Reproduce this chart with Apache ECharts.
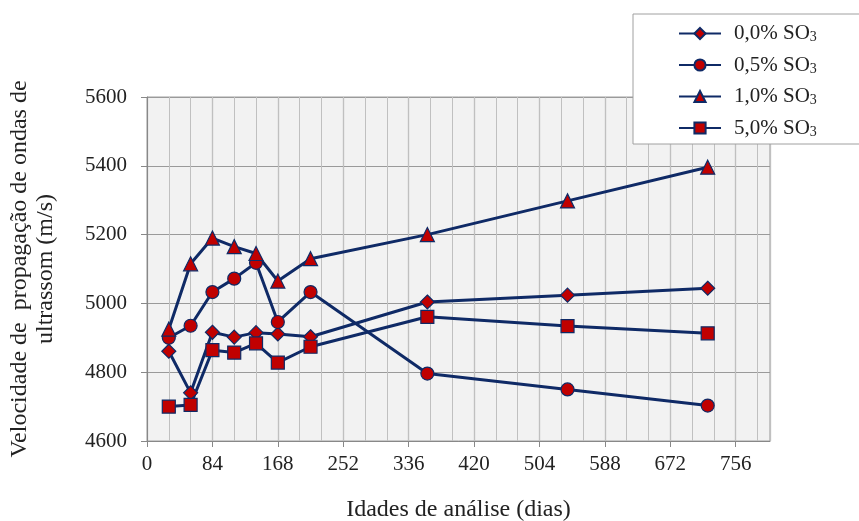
<!DOCTYPE html>
<html>
<head>
<meta charset="utf-8">
<script src="https://cdn.jsdelivr.net/npm/echarts@6/dist/echarts.min.js"></script>
<style>html,body{margin:0;padding:0;background:#fff}#c{width:859px;height:521px}</style>
</head>
<body>
<div id="c"></div>
<script>
const ages = [28, 56, 84, 112, 140, 168, 210, 360, 540, 720];
const s00 = [4861, 4740, 4916, 4902, 4915, 4911, 4903, 5004, 5024, 5044];
const s05 = [4900, 4935, 5033, 5072, 5118, 4946, 5033, 4796, 4750, 4703];
const s10 = [4925, 5115, 5190, 5165, 5145, 5065, 5130, 5200, 5298, 5396];
const s50 = [4700, 4705, 4864, 4857, 4884, 4828, 4874, 4961, 4934, 4913];
const names = ['0,0% SO3', '0,5% SO3', '1,0% SO3', '5,0% SO3'];
const symbols = ['diamond', 'circle', 'triangle', 'rect'];
const sizes = [14, 13, 14, 13];
const all = [s00, s05, s10, s50];

const navy = '#0f2a66';
const red = '#c00000';
const font = '"Liberation Serif", "Times New Roman", serif';

const chart = echarts.init(document.getElementById('c'));
chart.setOption({
  animation: false,
  backgroundColor: '#fff',
  textStyle: { fontFamily: font },
  grid: {
    left: 147, right: 89, top: 97, bottom: 80,
    outerBoundsMode: 'none', containLabel: false,
    show: true, backgroundColor: '#f2f2f2', borderColor: '#a0a0a0', borderWidth: 1
  },
  legend: {
    left: 633, top: 14,
    orient: 'vertical',
    backgroundColor: '#fff',
    borderColor: '#a0a0a0', borderWidth: 1,
    padding: [9, 80, 5, 45],
    itemWidth: 42, itemHeight: 14, itemGap: 10,
    textStyle: {
      fontFamily: font, fontSize: 21, color: '#222',
      padding: [0, 0, 0, 8],
      rich: {
        a: { fontFamily: font, fontSize: 21, color: '#222', lineHeight: 22 },
        s: { fontFamily: font, fontSize: 14, color: '#222', verticalAlign: 'bottom', lineHeight: 22, padding: [7, 0, 0, 0] }
      }
    },
    formatter: function (n) { return '{a|' + n.slice(0, -1) + '}{s|3}'; },
    data: names
  },
  xAxis: [{
    type: 'value', min: 0, max: 800, interval: 84,
    name: 'Idades de análise (dias)', nameLocation: 'middle', nameGap: 57,
    nameTextStyle: { fontFamily: font, fontSize: 24, color: '#222' },
    axisLine: { show: true, lineStyle: { color: '#888', width: 1 } },
    axisTick: { show: true, length: 6, lineStyle: { color: '#888' } },
    axisLabel: { fontFamily: font, fontSize: 21, color: '#222', margin: 13, showMaxLabel: false,
      formatter: function (v) { return String(v); } },
    splitLine: { show: true, lineStyle: { color: '#9a9a9a', width: 1.2 } }
  }, {
    type: 'value', min: 0, max: 800, interval: 28, position: 'bottom',
    axisLine: { show: false }, axisTick: { show: false }, axisLabel: { show: false },
    splitLine: { show: true, lineStyle: { color: '#c0c0c0', width: 1 } }
  }],
  yAxis: {
    type: 'value', min: 4600, max: 5600, interval: 200,
    name: 'Velocidade de  propagação de ondas de\nultrassom (m/s)',
    nameLocation: 'middle', nameGap: 88, nameRotate: 90,
    nameTextStyle: { fontFamily: font, fontSize: 24, color: '#222', lineHeight: 26 },
    axisLine: { show: true, lineStyle: { color: '#888', width: 1 } },
    axisTick: { show: true, length: 6, lineStyle: { color: '#888' } },
    axisLabel: { fontFamily: font, fontSize: 21, color: '#222', margin: 20,
      formatter: function (v) { return String(v); } },
    splitLine: { show: true, lineStyle: { color: '#9a9a9a', width: 1.2 } }
  },
  series: all.map(function (vals, i) {
    return {
      name: names[i], type: 'line', xAxisIndex: 0,
      data: ages.map(function (a, j) { return [a, vals[j]]; }),
      symbol: symbols[i], symbolSize: sizes[i],
      lineStyle: { color: navy, width: 3 },
      itemStyle: { color: red, borderColor: navy, borderWidth: 1.2 },
      z: 3
    };
  })
});
</script>
</body>
</html>
